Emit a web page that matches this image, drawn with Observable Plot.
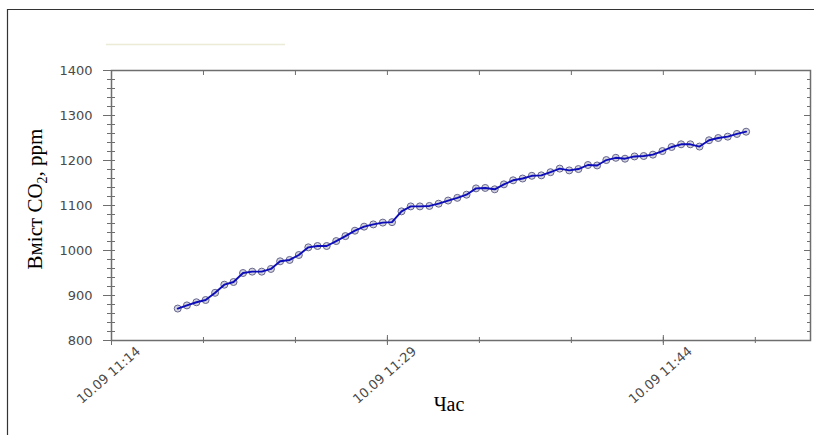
<!DOCTYPE html>
<html>
<head>
<meta charset="utf-8">
<script src="https://cdn.jsdelivr.net/npm/d3@7"></script>
<script src="https://cdn.jsdelivr.net/npm/@observablehq/plot@0.6"></script>
<style>
  body { margin: 0; background: #fff; }
  #chart { position: relative; width: 814px; height: 435px; }
</style>
</head>
<body>
<div id="chart"></div>
<script>
// Measurement times (10.09)
const times = [
  "11:17:36","11:18:06","11:18:37","11:19:07","11:19:38","11:20:08","11:20:38","11:21:09","11:21:39","11:22:10",
  "11:22:40","11:23:10","11:23:41","11:24:11","11:24:42","11:25:12","11:25:42","11:26:13","11:26:43","11:27:14",
  "11:27:44","11:28:14","11:28:45","11:29:15","11:29:46","11:30:16","11:30:46","11:31:17","11:31:47","11:32:18",
  "11:32:48","11:33:18","11:33:49","11:34:19","11:34:50","11:35:20","11:35:50","11:36:21","11:36:51","11:37:22",
  "11:37:52","11:38:22","11:38:53","11:39:23","11:39:54","11:40:24","11:40:54","11:41:25","11:41:55","11:42:26",
  "11:42:56","11:43:26","11:43:57","11:44:27","11:44:58","11:45:28","11:45:58","11:46:29","11:46:59","11:47:30",
  "11:48:00","11:48:30"
];
// CO2 content, ppm
const co2 = [
  871, 878, 885, 890, 906, 924, 930, 950, 953, 953,
  959, 976, 979, 990, 1007, 1010, 1010, 1021, 1032, 1044,
  1053, 1058, 1062, 1063, 1087, 1098, 1098, 1099, 1104, 1111,
  1117, 1124, 1138, 1139, 1136, 1147, 1156, 1160, 1166, 1167,
  1174, 1182, 1178, 1181, 1190, 1189, 1201, 1206, 1204, 1209,
  1210, 1213, 1221, 1230, 1236, 1236, 1231, 1245, 1250, 1253,
  1259, 1264
];
const yMajor = [800, 900, 1000, 1100, 1200, 1300, 1400];
const yMinor = [820, 840, 860, 880, 920, 940, 960, 980, 1020, 1040, 1060, 1080,
                1120, 1140, 1160, 1180, 1220, 1240, 1260, 1280, 1320, 1340, 1360, 1380];
const xTicks = ["11:14", "11:19", "11:24", "11:29", "11:34", "11:39", "11:44", "11:49"];
const xLabels = ["11:14", "11:29", "11:44"];
const xDomain = ["11:14", "11:52"];
const dayLabel = "10.09";
const yTitle = ["Вміст CO", "2", ", ppm"];
const xTitle = "Час";

const parseT = t => new Date(`2021-09-10T${t.length === 5 ? t + ":00" : t}`);
const data = times.map((t, i) => ({t: parseT(t), v: co2[i]}));
const axisGray = "#6e6e6e";
const textGray = "#4a4a4a";

const plot = Plot.plot({
  width: 814,
  height: 435,
  marginLeft: 111,
  marginRight: 4,
  marginTop: 70,
  marginBottom: 95,
  style: {fontFamily: "DejaVu Sans", fontSize: "13px", background: "transparent"},
  x: {type: "time", domain: xDomain.map(parseT)},
  y: {domain: [800, 1400]},
  marks: [
    Plot.frame({stroke: axisGray, strokeWidth: 1.5}),
    Plot.axisY({ticks: yMajor, tickSize: 12, dx: 4, tickPadding: 11, stroke: axisGray, fill: textGray,
                fontSize: 13, label: null, tickFormat: d => String(d)}),
    Plot.axisY({ticks: yMinor, tickSize: 8, dx: 4, stroke: axisGray, label: null, tickFormat: () => ""}),
    Plot.axisY({anchor: "right", ticks: yMajor, tickSize: 7, dx: -7, stroke: axisGray, label: null, tickFormat: () => ""}),
    Plot.axisY({anchor: "right", ticks: yMinor, tickSize: 4, dx: -4, stroke: axisGray, label: null, tickFormat: () => ""}),
    Plot.axisX({anchor: "top", ticks: xTicks.map(parseT), tickSize: 4, dy: 4, stroke: axisGray, label: null, tickFormat: () => ""}),
    Plot.axisX({anchor: "bottom", ticks: xTicks.map(parseT), tickSize: 6, dy: -3, stroke: axisGray, label: null, tickFormat: () => ""}),
    Plot.axisX({anchor: "bottom", ticks: xLabels.map(parseT), tickSize: 10, dy: -5, stroke: axisGray, label: null, tickFormat: () => ""}),
    Plot.text(xLabels, {x: d => parseT(d), frameAnchor: "bottom", dy: 38, rotate: -41,
                        text: d => `${dayLabel} ${d}`, fill: textGray, fontSize: 13}),
    Plot.text([xTitle], {frameAnchor: "bottom", dx: -12, dy: 70, text: d => d,
                         fontFamily: "Liberation Serif", fontSize: 20, fill: "#000"}),
    Plot.dot(data, {x: "t", y: "v", r: 3.5, stroke: "#66668e", strokeWidth: 1, fill: "#bcbccc", fillOpacity: 0.65}),
    Plot.line(data, {x: "t", y: "v", stroke: "#0c0cb8", strokeWidth: 1.9})
  ]
});

const svg = d3.select(plot);
// outer chart border (top & left)
svg.append("path").attr("d", "M7.5,435V9.5H814").attr("fill", "none").attr("stroke", "#333").attr("stroke-width", 1.2);
// faint empty title strip
svg.append("line").attr("x1", 106).attr("x2", 285).attr("y1", 44.5).attr("y2", 44.5)
   .attr("stroke", "#ecebd8").attr("stroke-width", 1.5);
// y title with subscript
const yl = svg.append("text").attr("transform", "translate(42,199) rotate(-90)")
  .attr("text-anchor", "middle").attr("font-family", "Liberation Serif").attr("font-size", 21).attr("fill", "#000");
yl.append("tspan").text(yTitle[0]);
yl.append("tspan").attr("font-size", 14).attr("dy", 5).text(yTitle[1]);
yl.append("tspan").attr("dy", -5).text(yTitle[2]);

document.getElementById("chart").append(plot);
</script>
</body>
</html>
